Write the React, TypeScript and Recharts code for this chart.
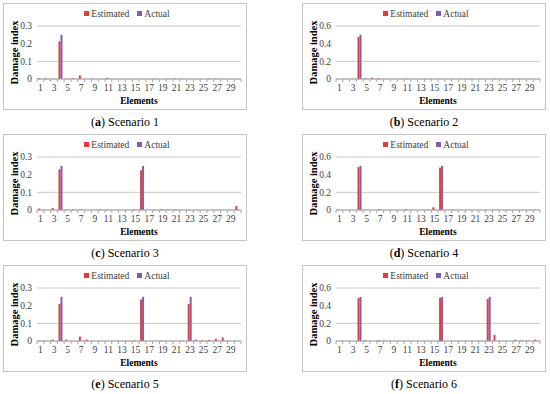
import { Bar, BarChart, CartesianGrid, Legend, XAxis, YAxis } from "recharts";

const elements = [
  "1", "2", "3", "4", "5", "6", "7", "8", "9", "10",
  "11", "12", "13", "14", "15", "16", "17", "18", "19", "20",
  "21", "22", "23", "24", "25", "26", "27", "28", "29", "30",
];

const s1Estimated = [0.005, 0.005, 0, 0.213, 0.003, 0.005, 0.02, 0, 0.002, 0, 0.007, 0, 0, 0, 0, 0.001, 0, 0.003, 0, 0.002, 0.003, 0.003, 0.001, 0.001, 0, 0.003, 0.003, 0, 0, 0];
const s1Actual = [0, 0, 0, 0.25, 0, 0, 0, 0, 0, 0, 0, 0, 0, 0, 0, 0, 0, 0, 0, 0, 0, 0, 0, 0, 0, 0, 0, 0, 0, 0];

const s2Estimated = [0.002, 0.002, 0.002, 0.475, 0.01, 0.015, 0.01, 0.002, 0.002, 0.002, 0.005, 0.002, 0.002, 0.004, 0.002, 0.002, 0.002, 0.002, 0.002, 0.002, 0.002, 0.002, 0.002, 0.005, 0.003, 0.002, 0.002, 0.002, 0.002, 0.002];
const s2Actual = [0, 0, 0, 0.5, 0, 0, 0, 0, 0, 0, 0, 0, 0, 0, 0, 0, 0, 0, 0, 0, 0, 0, 0, 0, 0, 0, 0, 0, 0, 0];

const s3Estimated = [0.008, 0, 0.012, 0.23, 0.003, 0.004, 0.003, 0, 0, 0.003, 0.003, 0, 0, 0, 0.004, 0.225, 0, 0.003, 0.006, 0.003, 0.003, 0, 0, 0, 0, 0, 0, 0, 0, 0.022];
const s3Actual = [0, 0, 0, 0.25, 0, 0, 0, 0, 0, 0, 0, 0, 0, 0, 0, 0.25, 0, 0, 0, 0, 0, 0, 0, 0, 0, 0, 0, 0, 0, 0];

const s4Estimated = [0.005, 0, 0, 0.485, 0.002, 0, 0.01, 0, 0, 0, 0.01, 0, 0, 0, 0.03, 0.48, 0, 0.003, 0, 0, 0, 0.002, 0, 0.002, 0, 0.004, 0, 0, 0, 0.003];
const s4Actual = [0, 0, 0, 0.5, 0, 0, 0, 0, 0, 0, 0, 0, 0, 0, 0, 0.5, 0, 0, 0, 0, 0, 0, 0, 0, 0, 0, 0, 0, 0, 0];

const s5Estimated = [0.002, 0, 0.008, 0.21, 0.008, 0, 0.025, 0.008, 0.002, 0, 0, 0.002, 0, 0, 0.004, 0.235, 0, 0, 0.003, 0, 0, 0.002, 0.21, 0.008, 0.005, 0.006, 0.012, 0.02, 0.002, 0];
const s5Actual = [0, 0, 0, 0.25, 0, 0, 0, 0, 0, 0, 0, 0, 0, 0, 0, 0.25, 0, 0, 0, 0, 0, 0, 0.25, 0, 0, 0, 0, 0, 0, 0];

const s6Estimated = [0, 0, 0, 0.485, 0.01, 0, 0.01, 0.003, 0, 0, 0, 0, 0, 0, 0, 0.49, 0, 0, 0, 0, 0, 0, 0.475, 0.07, 0, 0, 0.015, 0.01, 0.003, 0.015];
const s6Actual = [0, 0, 0, 0.5, 0, 0, 0, 0, 0, 0, 0, 0, 0, 0, 0, 0.5, 0, 0, 0, 0, 0, 0, 0.5, 0, 0, 0, 0, 0, 0, 0];

const ticksSmall = [0, 0.1, 0.2, 0.3];
const ticksLarge = [0, 0.2, 0.4, 0.6];

const RED = "#e8393d";
const PURPLE = "#7f5fab";
const FONT = "'Liberation Serif', 'DejaVu Serif', serif";

const BOX_W = 244;
const BOX_H = 107;

function buildRows(est: number[], act: number[]) {
  return elements.map((el, i) => ({ element: el, estimated: est[i], actual: act[i] }));
}

function ElementTick(props: any) {
  const { x, y, payload, index, visibleTicksCount } = props;
  const half = payload?.offset ?? 0;
  const top = y - 5;
  return (
    <g>
      <line x1={x - half} x2={x - half} y1={top} y2={top + 3} stroke="#a6a6a6" />
      {index === visibleTicksCount - 1 && (
        <line x1={x + half} x2={x + half} y1={top} y2={top + 3} stroke="#a6a6a6" />
      )}
      {index % 2 === 0 && (
        <text x={x} y={y} dy="0.71em" textAnchor="middle" fontSize={9.5} fontFamily={FONT} fill="#404040">
          {payload.value}
        </text>
      )}
    </g>
  );
}

function LegendRow() {
  const item = (color: string, label: string) => (
    <span style={{ display: "inline-flex", alignItems: "center", margin: "0 4px" }}>
      <span style={{ width: 5, height: 5, background: color, marginRight: 2, display: "inline-block" }} />
      {label}
    </span>
  );
  return (
    <div
      style={{
        height: 20,
        paddingLeft: 10,
        boxSizing: "border-box",
        textAlign: "center",
        fontFamily: FONT,
        fontSize: 9.5,
        lineHeight: "14px",
        color: "#404040",
      }}
    >
      {item(RED, "Estimated")}
      {item(PURPLE, "Actual")}
    </div>
  );
}

function Panel({
  left,
  top,
  estimated,
  actual,
  ticks,
  letter,
  num,
}: {
  left: number;
  top: number;
  estimated: number[];
  actual: number[];
  ticks: number[];
  letter: string;
  num: number;
}) {
  const rows = buildRows(estimated, actual);
  return (
    <>
      <div
        style={{
          position: "absolute",
          left,
          top,
          width: BOX_W,
          height: BOX_H,
          border: "1px solid #c4c4c4",
          boxSizing: "border-box",
        }}
      />
      <div style={{ position: "absolute", left, top }}>
        <BarChart
          width={BOX_W}
          height={BOX_H}
          data={rows}
          margin={{ top: 3, right: 6, bottom: 5, left: 0 }}
          barGap={0}
          barCategoryGap="16%"
        >
          <Legend verticalAlign="top" content={() => <LegendRow />} />
          <CartesianGrid vertical={false} stroke="#c8c8c8" />
          <XAxis
            dataKey="element"
            interval={0}
            tickSize={3}
            tickMargin={2}
            tickLine={false}
            stroke="#a6a6a6"
            height={26}
            tick={<ElementTick />}
            label={{
              value: "Elements",
              position: "insideBottom",
              offset: 1,
              style: { fontFamily: FONT, fontSize: 9.5, fontWeight: "bold", fill: "#000" },
            }}
          />
          <YAxis
            width={34}
            domain={[0, ticks[ticks.length - 1]]}
            ticks={ticks}
            axisLine={false}
            tickLine={false}
            tickSize={0}
            tickMargin={5}
            tick={{ fontFamily: FONT, fontSize: 9.5, fill: "#404040" }}
            label={{
              value: "Damage index",
              angle: -90,
              position: "insideLeft",
              offset: 11,
              style: { textAnchor: "middle", fontFamily: FONT, fontSize: 10.5, fontWeight: "bold", fill: "#000" },
            }}
          />
          <Bar dataKey="estimated" name="Estimated" fill={RED} isAnimationActive={false} />
          <Bar dataKey="actual" name="Actual" fill={PURPLE} isAnimationActive={false} />
        </BarChart>
      </div>
      <div
        style={{
          position: "absolute",
          left,
          top: top + 112,
          width: BOX_W,
          textAlign: "center",
          fontFamily: FONT,
          fontSize: 12,
          color: "#000",
        }}
      >
        (<b>{letter}</b>) Scenario {num}
      </div>
    </>
  );
}

export default function App() {
  return (
    <div style={{ position: "absolute", left: 0, top: 0, width: 550, height: 394, background: "#fff" }}>
      <Panel left={3} top={3} estimated={s1Estimated} actual={s1Actual} ticks={ticksSmall} letter="a" num={1} />
      <Panel left={302} top={3} estimated={s2Estimated} actual={s2Actual} ticks={ticksLarge} letter="b" num={2} />
      <Panel left={3} top={134} estimated={s3Estimated} actual={s3Actual} ticks={ticksSmall} letter="c" num={3} />
      <Panel left={302} top={134} estimated={s4Estimated} actual={s4Actual} ticks={ticksLarge} letter="d" num={4} />
      <Panel left={3} top={265} estimated={s5Estimated} actual={s5Actual} ticks={ticksSmall} letter="e" num={5} />
      <Panel left={302} top={265} estimated={s6Estimated} actual={s6Actual} ticks={ticksLarge} letter="f" num={6} />
    </div>
  );
}
